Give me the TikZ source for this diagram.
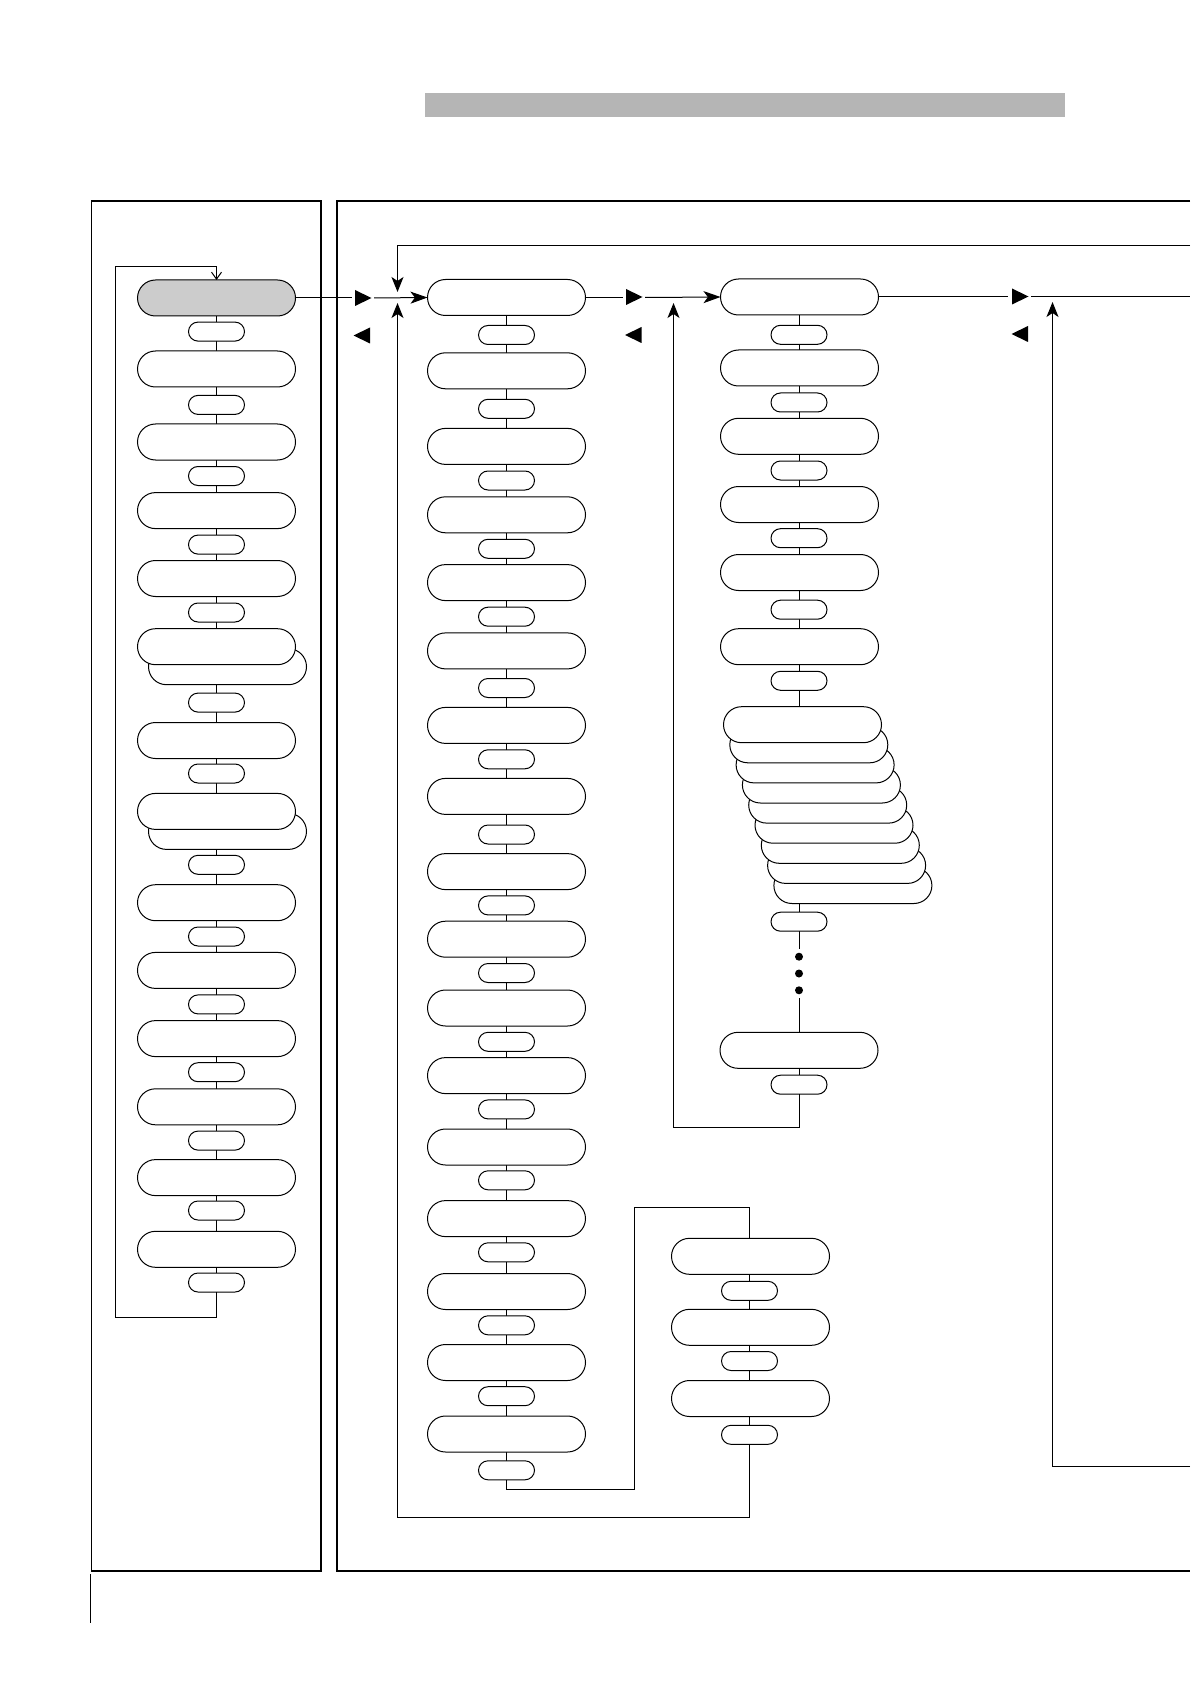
\documentclass[tikz,border=0pt]{standalone}
\usetikzlibrary{arrows.meta}
\pgfdeclarelayer{bg}
\pgfsetlayers{bg,main}
\definecolor{pillgray}{RGB}{204,204,204}
\definecolor{hdrgray}{RGB}{181,181,181}
\begin{document}
\begin{tikzpicture}[x=0.5pt,y=-0.5pt,
  pill/.style={draw,line width=0.5pt,fill=white,rounded corners=9pt,minimum width=79pt,minimum height=18pt,inner sep=0pt,outer sep=0pt},
  spill/.style={draw,line width=0.5pt,fill=white,rounded corners=4.75pt,minimum width=28pt,minimum height=9.5pt,inner sep=0pt,outer sep=0pt},
  conn/.style={line width=0.5pt},
  flow/.style={line width=0.5pt,-{Stealth[length=8.5pt,width=6pt,inset=2.2pt]}},
  vflow/.style={line width=0.5pt,-{Stealth[length=7.5pt,width=6pt,inset=2pt]}},
  dotnode/.style={circle,fill,minimum size=4pt,inner sep=0pt,outer sep=2pt},
  tri/.style={fill=black}
]
\useasboundingbox (0,0) rectangle (1190,1684);

% header bar
\fill[hdrgray] (425,93) rectangle (1065,117);
% panels
\draw[line width=0.65pt] (91.5,201) rectangle (321,1571);
\draw[line width=0.85pt] (1190,201) -- (337,201) -- (337,1571) -- (1190,1571);
% page marker
\draw[line width=0.6pt] (90.5,1574) -- (90.5,1623);

% ---------- column A ----------
\node[pill] (A6b) at (227.5,666.7) {};
\node[pill] (A8b) at (227.5,831.4) {};
\node[pill,fill=pillgray] (A1) at (216.5,298) {};
\foreach \y [count=\i from 2] in {369,442,510.6,578.5,646.7,740.5,811.4,902.7,970.4,1038.6,1106.8,1177.6,1249.3}
  \node[pill] (A\i) at (216.5,\y) {};
\foreach \y [count=\i] in {331.6,404.9,476,544.6,612.5,702.6,773.5,864.8,936.5,1004.4,1072.2,1140.6,1210.5,1282.5}
  \node[spill] (As\i) at (216.5,\y) {};

% ---------- column B ----------
\foreach \y [count=\i] in {297.5,370.8,446.4,514.8,582.6,650.9,725.4,796.4,871.6,939.2,1008,1075.6,1147,1218.6,1291.5,1362.5,1434}
  \node[pill] (B\i) at (506.5,\y) {};
\foreach \y [count=\i] in {335,408.8,480.5,548.8,616.7,688,759.3,834.5,905.4,973,1041.8,1109.4,1180.3,1252.3,1325.3,1396.2,1470.3}
  \node[spill] (Bs\i) at (506.5,\y) {};

% ---------- column C ----------
\foreach \y [count=\i] in {297,368,436.3,504.5,572.5,646.7}
  \node[pill] (C\i) at (799.5,\y) {};
\foreach \k in {8,7,...,1}
  \node[pill] (C7b\k) at ({802.5+6.3*\k},{724.7+20.1*\k}) {};
\node[pill] (C7) at (802.5,724.7) {};
\node[pill] (C8) at (799,1050.3) {};
\foreach \y [count=\i] in {334.8,402.5,470.5,538.2,609.7,680.8,921.7,1084.7}
  \node[spill] (Cs\i) at (799,\y) {};
\node[dotnode] (d1) at (799,956.7) {};
\node[dotnode] (d2) at (799,973.5) {};
\node[dotnode] (d3) at (799,990.3) {};

% ---------- column D ----------
\foreach \y [count=\i] in {1256.3,1327.3,1398.5}
  \node[pill] (D\i) at (750.5,\y) {};
\foreach \y [count=\i] in {1290.8,1361,1434.8}
  \node[spill] (Ds\i) at (749.5,\y) {};

% ---------- triangles ----------
\coordinate (T1) at (363,298);
\coordinate (T1b) at (362,335.5);
\coordinate (T2) at (634,297);
\coordinate (T2b) at (633.5,335);
\coordinate (T3) at (1020,296.5);
\coordinate (T3b) at (1020,334);
\foreach \t in {T1,T2,T3}
  \fill[tri] (\t) ++(-8,-8) -- ++(16.5,8) -- ++(-16.5,8) -- cycle;
\foreach \t in {T1b,T2b,T3b}
  \fill[tri] (\t) ++(8,-8) -- ++(-16.5,8) -- ++(16.5,8) -- cycle;

% ---------- connectors ----------
\begin{pgfonlayer}{bg}
\foreach \i in {1,...,14} \draw[conn] (A\i.center -| As\i.center) -- (As\i.center);
\foreach \i [evaluate=\i as \j using int(\i+1)] in {1,...,13} \draw[conn] (As\i.center) -- (A\j.center -| As\i.center);
\foreach \i in {1,...,17} \draw[conn] (B\i.center) -- (Bs\i.center);
\foreach \i [evaluate=\i as \j using int(\i+1)] in {1,...,16} \draw[conn] (Bs\i.center) -- (B\j.center);
\foreach \i in {1,...,8} \draw[conn] (C\i.center -| Cs\i.center) -- (Cs\i.center);
\foreach \i [evaluate=\i as \j using int(\i+1)] in {1,...,6} \draw[conn] (Cs\i.center) -- (C\j.center -| Cs\i.center);
\draw[conn] (Cs7) -- (d1);
\draw[conn] (d3) -- (C8.north -| d3);
\foreach \i in {1,...,3} \draw[conn] (D\i.center -| Ds\i.center) -- (Ds\i.center);
\foreach \i [evaluate=\i as \j using int(\i+1)] in {1,...,2} \draw[conn] (Ds\i.center) -- (D\j.center -| Ds\i.center);
\end{pgfonlayer}

% loop of column A
\coordinate (LA1) at (216.5,1317.7);
\coordinate (LA2) at (115.5,266.7);
\draw[conn,-{Straight Barb[length=3.5pt,width=5pt]}] (As14.south) -- (LA1) -| (LA2) -| (A1.north);

% column B to column D
\coordinate (LB1) at (634,1489.3);
\coordinate (LB2) at (749.5,1207.3);
\draw[conn] (Bs17.south) |- (LB1) |- (LB2) -- (D1.north -| LB2);

% column D back to the entry
\coordinate (LD1) at (397.5,1517.3);
\coordinate (JD) at (397.5,303);
\draw[vflow] (Ds3.south) |- (LD1) -- (JD);

% top return line
\coordinate (RT) at (1190,245.3);
\coordinate (JT) at (397.5,292);
\draw[vflow] (RT) -| (JT);

% column C back to its entry
\coordinate (LC1) at (673.5,1127);
\coordinate (JC) at (673.5,303);
\draw[vflow] (Cs8.south) |- (LC1) -- (JC);

% right return
\coordinate (RB) at (1190,1466);
\coordinate (JR) at (1052.5,302);
\draw[vflow] (RB) -| (JR);

% main flow
\coordinate (F1a) at (351.5,298);
\coordinate (F1b) at (374,298);
\draw[conn] (A1.east) -- (F1a);
\draw[flow] (F1b) -- (B1.west);
\coordinate (F2a) at (623,297.5);
\coordinate (F2b) at (645,297.5);
\draw[conn] (B1.east) -- (F2a);
\draw[flow] (F2b) -- (C1.west);
\coordinate (F3a) at (1008,297);
\coordinate (F3b) at (1031,297);
\coordinate (F3c) at (1190,297);
\draw[conn] (C1.east) -- (F3a);
\draw[conn] (F3b) -- (F3c);
\end{tikzpicture}
\end{document}
